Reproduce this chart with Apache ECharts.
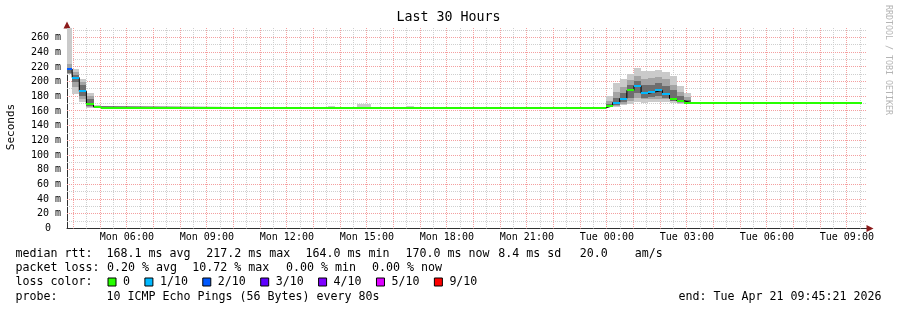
<!DOCTYPE html>
<html><head><meta charset="utf-8">
<script src="https://cdn.jsdelivr.net/npm/echarts@6/dist/echarts.min.js"></script>
<style>html,body{margin:0;padding:0;background:#fff}#c{width:897px;height:310px}</style>
</head><body><div id="c"></div>
<script>
const FONT = 'DejaVu Sans Mono';
// times are minutes since Mon 00:00
const graphStart = 225.35;   // Mon 03:45:21
const graphEnd = 2025.35;    // Tue 09:45:21
const dataEnd = 2013;
const yMax = 273;

const segStart  = [225.35, 237, 253, 269, 285, 301, 813, 829, 877, 909, 989, 1005, 1437, 1453, 1469, 1485, 1501, 1517, 1533, 1549, 1565, 1581, 1597, 1613, 1629];
const medianRtt = [217, 205.5, 187, 169, 165.5, 164.2, 164.2, 164.2, 164.2, 164.2, 164.2, 164.2, 166.8, 171.5, 177, 188, 194, 184, 186, 188, 183, 177, 174, 171.5, 170.5];
const lossLevel = [2, 1, 1, 0, 0, 0, 0, 0, 0, 0, 0, 0, 0, 1, 1, 0, 1, 1, 1, 1, 1, 0, 0, 0, 0];
const smokeMin  = [211, 183.7, 172, 164.6, 163.5, null, 164, null, 164, null, 164, null, 165, 165.5, 168, 170, 172, 171, 172, 172, 172, 171, 170, 169, null];
const smokeMax  = [273, 216.5, 203, 184.6, 168, null, 166.5, null, 169, null, 166.5, null, 180, 198, 204, 211, 218, 214, 214, 215.5, 213, 207, 194, 184, null];
const smokeMidLo = [211, 193, 177, 166, 164, null, null, null, null, null, null, null, 165.5, 167, 170, 174, 178, 176, 176, 177, 176, 173, 171, 170, null];
const smokeMidHi = [224, 213, 200, 180, 167, null, null, null, null, null, null, null, 174, 186, 193, 202, 208, 204, 205, 206, 203, 196, 186, 179, null];
const smokeInLo  = [212, 200, 181, 167, 164.5, null, null, null, null, null, null, null, 166, 168, 172, 178, 184, 178, 179, 180, 178, 174, 172, 170.5, null];
const smokeInHi  = [219, 209, 195, 176, 166.5, null, null, null, null, null, null, null, 170, 178, 185, 195, 201, 195, 196, 198, 194, 188, 180, 175, null];

const lossNames  = ['0', '1/10', '2/10', '3/10', '4/10', '5/10', '9/10'];
const lossColors = ['#26ff00', '#00b8ff', '#0059ff', '#5e00ff', '#7e00ff', '#dd00ff', '#ff0000'];

const xLabelValues = [360, 540, 720, 900, 1080, 1260, 1440, 1620, 1800, 1980];
const xLabelTexts  = ['Mon 06:00', 'Mon 09:00', 'Mon 12:00', 'Mon 15:00', 'Mon 18:00', 'Mon 21:00', 'Tue 00:00', 'Tue 03:00', 'Tue 06:00', 'Tue 09:00'];
const yLabelValues = [0, 20, 40, 60, 80, 100, 120, 140, 160, 180, 200, 220, 240, 260];
const yLabelTexts  = ['0', '20 m', '40 m', '60 m', '80 m', '100 m', '120 m', '140 m', '160 m', '180 m', '200 m', '220 m', '240 m', '260 m'];

const rttLegend   = ['median rtt:', '168.1 ms avg', '217.2 ms max', '164.0 ms min', '170.0 ms now', '8.4 ms sd', '20.0', 'am/s'];
const lossLegend  = ['packet loss:', '0.20 % avg', '10.72 % max', '0.00 % min', '0.00 % now'];
const colorLegend = ['loss color:'];
const probeLegend = ['probe:', '10 ICMP Echo Pings (56 Bytes) every 80s'];
const endText = 'end: Tue Apr 21 09:45:21 2026';
const titleText = 'Last 30 Hours';

// layout of legend pieces (x of each piece, y of each line)
const rttX   = [15.5, 106.6, 206.2, 305.6, 405.5, 498.2, 579.8, 634.8];
const lossX  = [15.5, 107.0, 192.2, 286.0, 372.0];
const colorX = [15.5];
const probeX = [15.5, 106.6];
const lineY  = [254.3, 268.3, 282.3, 296.5];
const LEGEND_FONT = '11.63px ' + FONT;

// grid positions: major every hour / 20 m, minor every half hour / 10 m
const gridXMajor = [], gridXMinor = [];
for (let m = 240; m <= 2010; m += 60) { gridXMajor.push(m); gridXMinor.push(m + 30); }
const gridYMajor = [], gridYMinor = [];
for (let v = 20; v <= 260; v += 20) gridYMajor.push(v);
for (let v = 10; v <= 270; v += 20) gridYMinor.push(v);

const RED = '#f4a0a0', GRAY = '#cfcfcf';

function segEnd(i) { return i + 1 < segStart.length ? segStart[i + 1] : dataEnd; }
function bandData(lo, hi) {
  const out = [];
  for (let i = 0; i < segStart.length; i++) if (lo[i] != null) out.push([segStart[i], segEnd(i), lo[i], hi[i]]);
  return out;
}
function rectItem(params, api) {
  const a = api.coord([api.value(0), api.value(3)]);
  const b = api.coord([api.value(1), api.value(2)]);
  const x0 = Math.round(a[0]), x1 = Math.round(b[0]);
  const y0 = Math.round(a[1]), y1 = Math.round(b[1]);
  return { type: 'rect', shape: { x: x0, y: y0, width: x1 - x0, height: Math.max(1, y1 - y0) }, style: { fill: api.visual('color') } };
}
function medianItem(params, api) {
  const a = api.coord([api.value(0), api.value(2)]);
  const b = api.coord([api.value(1), api.value(2)]);
  const x0 = Math.round(a[0]), x1 = Math.round(b[0]);
  const y = Math.round(a[1]);
  return { type: 'rect', shape: { x: x0, y: y - 1, width: x1 - x0, height: 2 }, style: { fill: api.visual('color') } };
}
function vGridItem(params, api) {
  const p0 = api.coord([api.value(0), 0]);
  const p1 = api.coord([api.value(0), yMax]);
  const x = Math.floor(p0[0]) + 0.5;
  return { type: 'line', shape: { x1: x, y1: p1[1], x2: x, y2: p0[1] }, style: { stroke: api.visual('color'), lineWidth: 1, lineDash: [1, 1] } };
}
function hGridItem(params, api) {
  const p0 = api.coord([graphStart, api.value(1)]);
  const p1 = api.coord([graphEnd, api.value(1)]);
  const y = Math.floor(p0[1]) + 0.5;
  return { type: 'line', shape: { x1: p0[0], y1: y, x2: p1[0], y2: y }, style: { stroke: api.visual('color'), lineWidth: 1, lineDash: [1, 1] } };
}

const series = [];
series.push({ type: 'custom', name: 'gridXMinor', renderItem: vGridItem, silent: true, z: 1, itemStyle: { color: GRAY }, encode: { x: 0, y: 1 }, data: gridXMinor.map(v => [v, 0]) });
series.push({ type: 'custom', name: 'gridYMinor', renderItem: hGridItem, silent: true, z: 1, itemStyle: { color: GRAY }, encode: { x: 0, y: 1 }, data: gridYMinor.map(v => [graphStart, v]) });
series.push({ type: 'custom', name: 'gridXMajor', renderItem: vGridItem, silent: true, z: 1.1, itemStyle: { color: RED }, encode: { x: 0, y: 1 }, data: gridXMajor.map(v => [v, 0]) });
series.push({ type: 'custom', name: 'gridYMajor', renderItem: hGridItem, silent: true, z: 1.1, itemStyle: { color: RED }, encode: { x: 0, y: 1 }, data: gridYMajor.map(v => [graphStart, v]) });

const smokeLayers = [
  { lo: smokeMin, hi: smokeMax, color: '#cacaca' },
  { lo: smokeMidLo, hi: smokeMidHi, color: '#a4a4a4' },
  { lo: smokeInLo, hi: smokeInHi, color: '#6e6e6e' }
];
smokeLayers.forEach((L, k) => series.push({
  type: 'custom', name: 'smoke' + k, renderItem: rectItem, silent: true, clip: true,
  itemStyle: { color: L.color }, z: 2 + k * 0.1, encode: { x: [0, 1], y: [2, 3] },
  data: bandData(L.lo, L.hi)
}));
const medLine = segStart.map((t, i) => [t, medianRtt[i]]);
medLine.push([dataEnd, medianRtt[medianRtt.length - 1]]);
series.push({
  type: 'line', name: 'median', step: 'end', symbol: 'none', silent: true, z: 3,
  lineStyle: { color: '#000', width: 1 }, data: medLine
});
lossNames.forEach((nm, li) => {
  const d = [];
  for (let i = 0; i < segStart.length; i++) if (lossLevel[i] === li) d.push([segStart[i], segEnd(i), medianRtt[i]]);
  series.push({
    type: 'custom', name: nm, renderItem: medianItem, silent: true, clip: true,
    itemStyle: { color: lossColors[li] }, z: 4, encode: { x: [0, 1], y: 2 }, data: d
  });
});

const graphic = [];
graphic.push({ type: 'text', left: 'center', top: 11, style: { text: titleText, font: '13.3px ' + FONT, fill: '#000' } });
graphic.push({ type: 'text', x: 11, y: 127, rotation: Math.PI / 2, style: { text: 'Seconds', font: '11px ' + FONT, fill: '#000', align: 'center', verticalAlign: 'middle' } });
graphic.push({ type: 'text', x: 888, y: 5, rotation: -Math.PI / 2, style: { text: 'RRDTOOL / TOBI OETIKER', font: '8.3px ' + FONT, fill: '#b4b4b4', align: 'left', verticalAlign: 'middle' } });
[[rttLegend, rttX], [lossLegend, lossX], [colorLegend, colorX], [probeLegend, probeX]].forEach((pair, li) => {
  pair[0].forEach((t, j) => graphic.push({ type: 'text', x: pair[1][j], y: lineY[li], style: { text: t, font: LEGEND_FONT, fill: '#000', align: 'left', verticalAlign: 'middle' } }));
});
graphic.push({ type: 'text', x: 881.5, y: lineY[3], style: { text: endText, font: LEGEND_FONT, fill: '#000', align: 'right', verticalAlign: 'middle' } });

function arrowAxis(kind, min, max) {
  return {
    type: 'value', min: min, max: max, position: kind === 'x' ? 'bottom' : 'left',
    axisLine: { show: true, symbol: ['none', 'triangle'], symbolSize: [7, 7], symbolOffset: [0, 3], lineStyle: { color: '#8b1a1a', width: 0 } },
    axisTick: { show: false }, axisLabel: { show: false }, splitLine: { show: false }
  };
}

const chart = echarts.init(document.getElementById('c'), null, { renderer: 'canvas' });
chart.setOption({
  animation: false,
  backgroundColor: '#fff',
  grid: { left: 67, right: 30, top: 28, bottom: 81.5, containLabel: false },
  xAxis: [{
    type: 'value', min: graphStart, max: graphEnd, position: 'bottom',
    axisLine: { show: true, lineStyle: { color: '#303030', width: 1 } },
    axisTick: { show: false },
    axisLabel: { customValues: xLabelValues, margin: 4, color: '#000', fontFamily: FONT, fontSize: 10,
      formatter: v => { const i = xLabelValues.indexOf(v); return i >= 0 ? xLabelTexts[i] : ''; } },
    splitLine: { show: false }
  }, arrowAxis('x', graphStart, graphEnd)],
  yAxis: [{
    type: 'value', min: 0, max: yMax, position: 'left',
    axisLine: { show: true, lineStyle: { color: '#303030', width: 1 } },
    axisTick: { show: false },
    axisLabel: { customValues: yLabelValues, margin: 6, color: '#000', fontFamily: FONT, fontSize: 10,
      formatter: v => { const i = yLabelValues.indexOf(v); return i > 0 ? yLabelTexts[i] : (i === 0 ? '{z|0}' : ''); },
      rich: { z: { fontFamily: FONT, fontSize: 10, color: '#000', padding: [0, 10, 0, 0] } } },
    splitLine: { show: false }
  }, arrowAxis('y', 0, yMax)],
  legend: {
    data: lossNames, left: 107.5, top: 275, padding: 0, itemGap: 14.4, itemWidth: 8, itemHeight: 8,
    icon: 'rect', selectedMode: false,
    itemStyle: { borderColor: '#000', borderWidth: 1 },
    textStyle: { fontFamily: FONT, fontSize: 11.63, color: '#000', lineHeight: 14, padding: [0, 0, 0, 2] }
  },
  graphic: graphic,
  series: series
});
</script>
</body></html>
